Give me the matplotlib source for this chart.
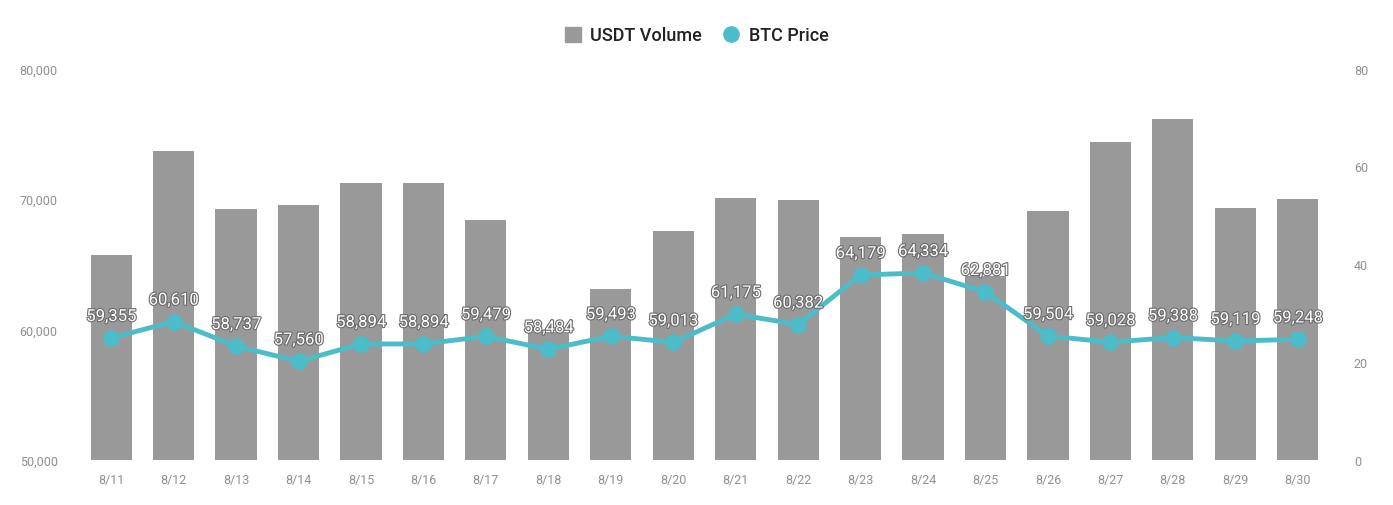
import matplotlib
matplotlib.use("Agg")
import matplotlib.pyplot as plt
import matplotlib.patheffects as pe
from matplotlib.lines import Line2D
from matplotlib.patches import Patch
import numpy as np

plt.rcParams['font.family'] = ['Liberation Sans Narrow', 'Roboto', 'DejaVu Sans']

dates = ['8/11', '8/12', '8/13', '8/14', '8/15', '8/16', '8/17', '8/18', '8/19', '8/20',
         '8/21', '8/22', '8/23', '8/24', '8/25', '8/26', '8/27', '8/28', '8/29', '8/30']
usdt_volume = [41.9, 63.1, 51.3, 52.1, 56.6, 56.6, 49.0, 26.2, 34.9, 46.8,
               53.5, 53.1, 45.6, 46.2, 37.6, 50.9, 65.0, 69.7, 51.5, 53.3]
btc_price = [59355, 60610, 58737, 57560, 58894, 58894, 59479, 58484, 59493, 59013,
             61175, 60382, 64179, 64334, 62881, 59504, 59028, 59388, 59119, 59248]

bar_color = '#999999'
line_color = '#4bbcc8'
tick_color = '#909090'

fig = plt.figure(figsize=(13.93, 5.06), dpi=100)
ax = fig.add_axes([0.0574, 0.0889, 0.8966, 0.7737])
ax2 = ax.twinx()

x = np.arange(len(dates))
ax2.bar(x, usdt_volume, width=0.66, color=bar_color, zorder=1)
ax2.set_ylim(0, 80)
ax2.set_yticks([0, 20, 40, 60, 80])

ax.set_zorder(ax2.get_zorder() + 1)
ax.patch.set_visible(False)
ax.plot(x, btc_price, color=line_color, lw=3.5, marker='o', ms=11, zorder=3)
ax.set_ylim(50000, 80000)
ax.set_yticks([50000, 60000, 70000, 80000])
ax.yaxis.set_major_formatter(matplotlib.ticker.FuncFormatter(lambda v, p: f'{int(v):,}'))
ax.set_xlim(-0.5, len(dates) - 0.5)
ax.set_xticks(x)
ax.set_xticklabels(dates)

for a in (ax, ax2):
    for s in a.spines.values():
        s.set_visible(False)
    a.tick_params(length=0, colors=tick_color, labelsize=9)
ax.tick_params(axis='y', pad=16)
ax2.tick_params(axis='y', pad=18)
ax.tick_params(axis='x', pad=9)

for xi, v in zip(x, btc_price):
    ax.annotate(f'{v:,}', (xi, v), xytext=(0, 10), textcoords='offset points',
                ha='center', va='bottom', fontsize=12, color='white', zorder=5,
                path_effects=[pe.withStroke(linewidth=1.6, foreground='#6a6a6a')])

handles = [Patch(color=bar_color, label='USDT Volume'),
           Line2D([], [], color=line_color, marker='o', ls='', ms=11, label='BTC Price')]
fig.legend(handles=handles, loc='center', bbox_to_anchor=(0.5, 0.928), ncol=2, frameon=False,
           handlelength=0.9, handleheight=0.9, handletextpad=0.5, columnspacing=1.2,
           prop={'family': ['Roboto', 'DejaVu Sans'], 'size': 13, 'weight': 'medium'},
           labelcolor='#222222')

fig.savefig('out.png', dpi=100, facecolor='white')
